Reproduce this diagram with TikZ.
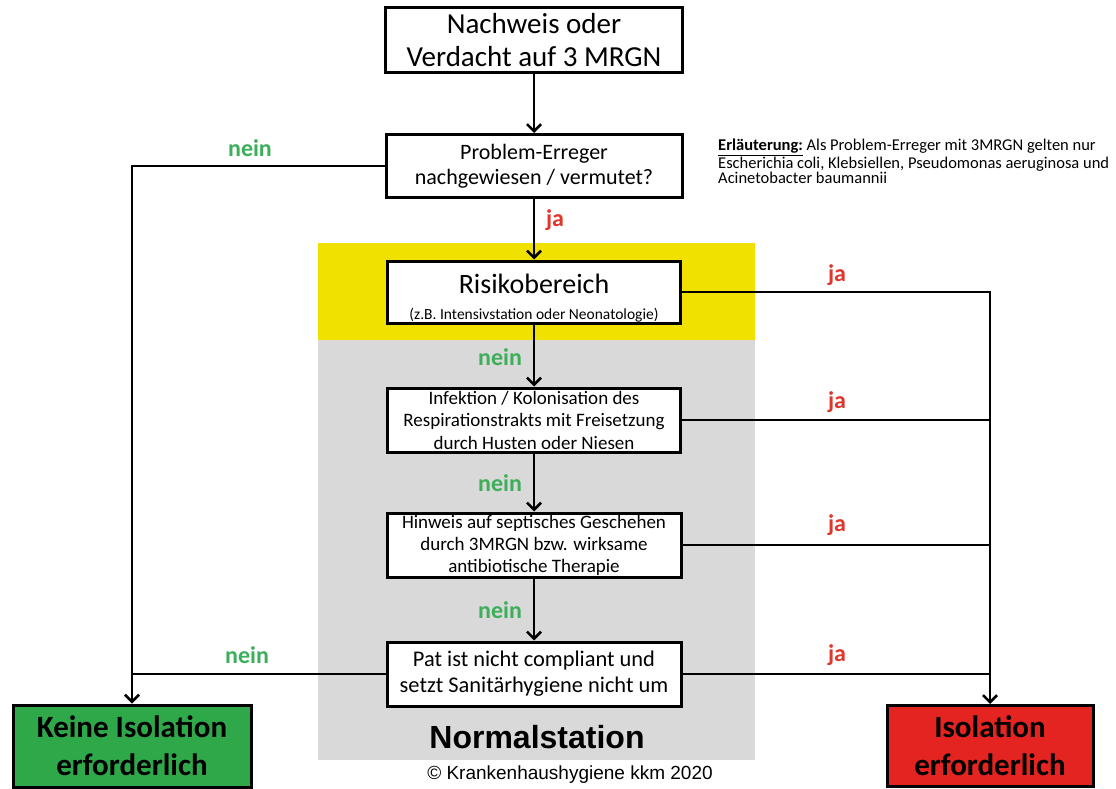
\documentclass[tikz,border=0pt]{standalone}
\usepackage{fontspec}
\setmainfont{Carlito}
\newfontfamily\arialfont{Liberation Sans}
\usetikzlibrary{arrows.meta}
\definecolor{neingreen}{HTML}{3DAE5A}
\definecolor{jared}{HTML}{E0352B}
\definecolor{boxgreen}{HTML}{2FA84A}
\definecolor{boxred}{HTML}{E32420}
\definecolor{zoneyellow}{HTML}{F0E100}
\definecolor{zonegray}{HTML}{D9D9D9}
\begin{document}
\begin{tikzpicture}[x=1pt,y=-1pt,
  box/.style={draw, line width=3pt, fill=white, align=center, inner sep=0pt},
  flow/.style={line width=2.6pt, -{Straight Barb[length=7pt,width=14pt]}},
  conn/.style={line width=2.6pt},
  neinlbl/.style={text=neingreen, font=\bfseries\fontsize{24}{28}\selectfont},
  jalbl/.style={text=jared, font=\bfseries\fontsize{24}{28}\selectfont}]
\useasboundingbox[fill=white] (0,0) rectangle (1116,789);
\fill[zoneyellow] (318,243) rectangle (755,340);
\fill[zonegray] (318,340) rectangle (755,760);

\node[box, minimum width=297pt, minimum height=65pt, font=\fontsize{29}{33}\selectfont] (start) at (534,40) {Nachweis oder\\Verdacht auf 3 MRGN};
\node[box, minimum width=296pt, minimum height=63pt, font=\fontsize{22}{25}\selectfont] (prob) at (534,166) {Problem-Erreger\\nachgewiesen / vermutet?};
\node[box, minimum width=293pt, minimum height=62pt, font=\fontsize{15.5}{26}\selectfont] (risk) at (534,292) {\rule{0pt}{31pt}{\fontsize{28}{30}\selectfont Risikobereich}\\(z.B. Intensivstation oder Neonatologie)};
\node[box, minimum width=293pt, minimum height=64pt, font=\fontsize{19}{22.5}\selectfont] (inf) at (534,420) {Infektion / Kolonisation des\\Respirationstrakts mit Freisetzung\\durch Husten oder Niesen};
\node[box, minimum width=294pt, minimum height=64pt, font=\fontsize{19}{22}\selectfont] (hin) at (534,545) {Hinweis auf septisches Geschehen\\durch 3MRGN bzw. wirksame\\antibiotische Therapie};
\node[box, minimum width=294pt, minimum height=64pt, font=\fontsize{22.4}{26}\selectfont] (pat) at (534,674) {Pat ist nicht compliant und\\setzt Sanitärhygiene nicht um};
\node[box, fill=boxgreen, minimum width=238pt, minimum height=82pt, font=\bfseries\fontsize{31}{38}\selectfont] (keine) at (132,746) {Keine Isolation\\erforderlich};
\node[box, fill=boxred, minimum width=206pt, minimum height=81pt, font=\bfseries\fontsize{31}{38}\selectfont] (iso) at (990,746) {Isolation\\erforderlich};

\node[font=\arialfont\bfseries\fontsize{32}{34}\selectfont] (normal) at (537,737) {Normalstation};
\node[font=\arialfont\fontsize{19}{22}\selectfont] (copy) at (570,775) {© Krankenhaushygiene kkm 2020};
\node[anchor=north west, align=left, inner sep=0pt, font=\fontsize{16.5}{15.5}\selectfont] (note) at (718,139) {\textbf{\underline{Erläuterung:}} Als Problem-Erreger mit 3MRGN gelten nur\\Escherichia coli, Klebsiellen, Pseudomonas aeruginosa und\\Acinetobacter baumannii};

\draw[flow] (start) -- (prob);
\draw[flow] (prob) -- (risk);
\draw[flow] (risk) -- (inf);
\draw[flow] (inf) -- (hin);
\draw[flow] (hin) -- (pat);
\draw[flow] (prob.west) -| (keine.north);
\draw[conn] (pat.west) -- (pat.west -| keine.north);
\draw[flow] (risk.east) -| (iso.north);
\draw[conn] (inf.east) -- (inf.east -| iso.north);
\draw[conn] (hin.east) -- (hin.east -| iso.north);
\draw[conn] (pat.east) -- (pat.east -| iso.north);

\node[neinlbl] (n1) at (250,148) {nein};
\node[jalbl] (j1) at (555,220) {ja};
\node[jalbl] (j2) at (837,275) {ja};
\node[neinlbl] (n2) at (500,357) {nein};
\node[jalbl] (j3) at (837,402) {ja};
\node[neinlbl] (n3) at (500,483) {nein};
\node[jalbl] (j4) at (837,525) {ja};
\node[neinlbl] (n4) at (500,610) {nein};
\node[neinlbl] (n5) at (247,655) {nein};
\node[jalbl] (j5) at (837,655) {ja};
\end{tikzpicture}
\end{document}
